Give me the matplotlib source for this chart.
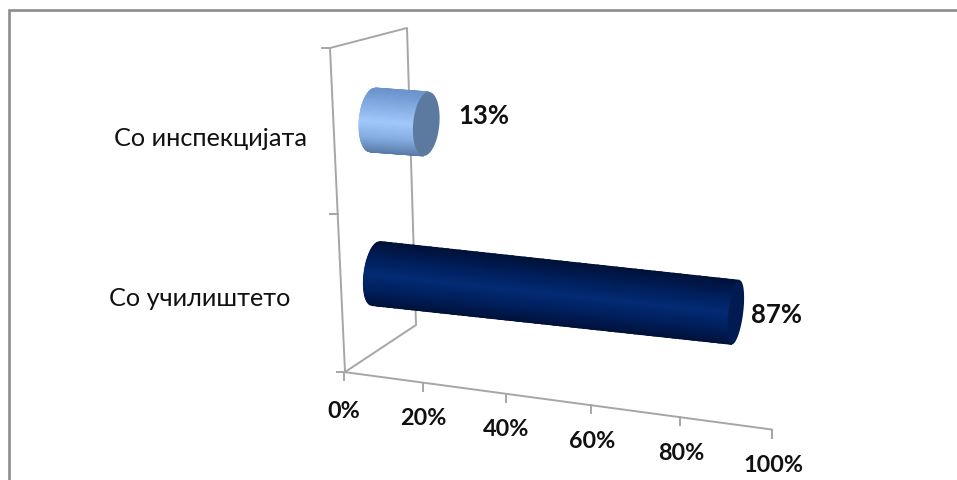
import numpy as np
import matplotlib
matplotlib.use("Agg")
import matplotlib.pyplot as plt
from matplotlib.colors import LinearSegmentedColormap
from matplotlib.patches import Polygon

categories = ["Со училиштето", "Со инспекцијата"]
values = [87, 13]
x_ticks = [0, 20, 40, 60, 80, 100]
bar_colors = [["#00123a", "#001f5c", "#032b74", "#001f5c", "#00123a"],
              ["#5a7aa6", "#86aee4", "#a3c9fb", "#86aee4", "#6a93cc"]]
cap_colors = ["#001a52", "#5c7a9f"]

plt.rcParams['font.family'] = ['Lato', 'Open Sans', 'DejaVu Sans']
fig = plt.figure(figsize=(9.57, 4.80), dpi=100)
ax = fig.add_axes([0, 0, 1, 1])
ax.set_xlim(0, 957)
ax.set_ylim(480, 0)
ax.axis("off")

GRAY = "#a6a6a6"
# outer frame (left and top edges only are in view)
ax.plot([8.5, 8.5, 957], [480, 10, 10], color="#8c8c8c", lw=1.9, solid_joinstyle="miter")

def front(t):
    """position on the front edge of the floor for a fraction t of the axis"""
    px = 344 + 390.5 * t / (1 - 0.0875 * t)
    py = 372 + (px - 344) * 0.1345
    return px, py

# walls
ax.plot([345, 330, 407, 416, 345], [372, 48, 28, 325, 372], color=GRAY, lw=1.4)
for (x0, y0) in [(330, 48), (337.5, 214), (345, 372)]:
    ax.plot([x0 - 8, x0], [y0, y0], color=GRAY, lw=1.4)

# value axis
ts = np.array(x_ticks) / 100
fx, fy = front(ts)
ax.plot(fx, fy, color=GRAY, lw=1.4)
for x, y, v in zip(fx, fy, x_ticks):
    ax.plot([x, x], [y, y + 8], color=GRAY, lw=1.4)
    ax.text(x + 0.015 * v, y + (39 if v == 0 else 36), f"{v}%", ha="center", va="center",
            fontsize=16.8, fontweight="bold", color="#111111")

# geometry of the cylinder rows: start, slope, half height, half depth, lean
rows = {
    0: dict(x0=376, y0=273.5, A=382, slope=0.108, a=32, w0=12.0, lean=3.8),
    1: dict(x0=373, y0=120, A=405, slope=0.074, a=32, w0=13.8, lean=2.5),
}

def cylinder(i, v):
    r = rows[i]
    t = np.linspace(0, v / 100, 60)
    s = np.linspace(-1, 1, 61)
    T, S = np.meshgrid(t, s)
    cx = r["x0"] + r["A"] * T / (1 - 0.0875 * T)
    cy = r["y0"] + (cx - r["x0"]) * r["slope"]
    w = r["w0"] - 5.2 * T
    X = cx + S * r["lean"] - np.sqrt(1 - S**2) * w
    Y = cy - S * r["a"]
    cmap = LinearSegmentedColormap.from_list("c", bar_colors[i])
    ax.pcolormesh(X, Y, (S + 1) / 2, cmap=cmap, shading="gouraud", vmin=0, vmax=1, zorder=3)
    # end cap
    th = np.linspace(0, 2 * np.pi, 120)
    ex, ey = cx[0, -1], cy[0, -1]
    we = r["w0"] - 5.2 * v / 100
    px = ex + np.sin(th) * r["lean"] + np.cos(th) * we
    py = ey - np.sin(th) * r["a"]
    ax.add_patch(Polygon(np.c_[px, py], closed=True, facecolor=cap_colors[i], edgecolor="none", zorder=4))

label_pos = {0: (777, 315), 1: (484, 116)}
cat_pos = {0: (200, 298), 1: (211, 139)}
for i, (c, v) in enumerate(zip(categories, values)):
    cylinder(i, v)
    ax.text(*label_pos[i], f"{v}%", ha="center", va="center", fontsize=18.5, fontweight="bold", color="#111111")
    ax.text(*cat_pos[i], c, ha="center", va="center", fontsize=18.2, color="#111111")

fig.savefig("out.png", dpi=100)
